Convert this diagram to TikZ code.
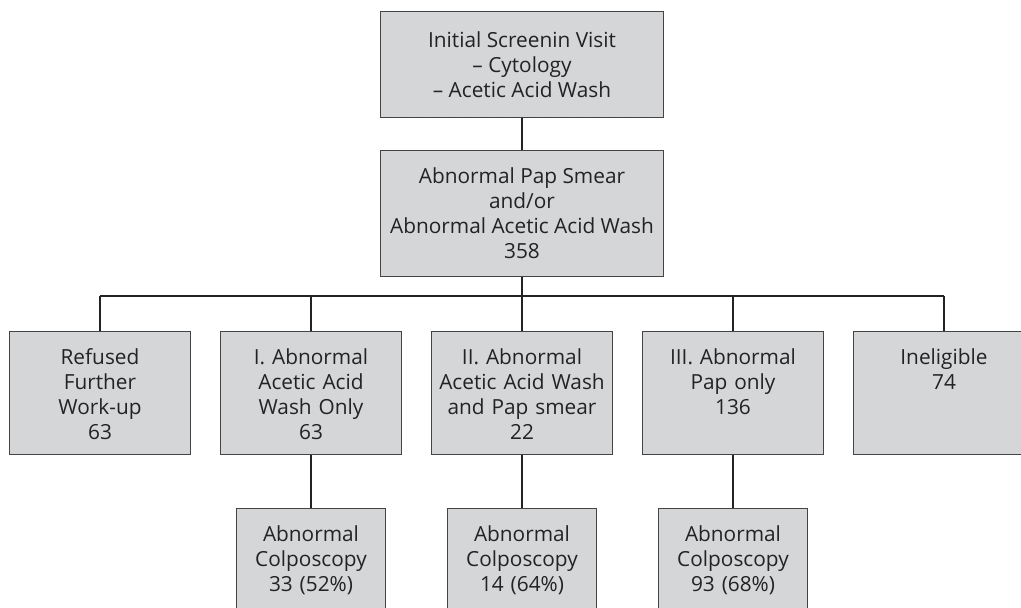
\documentclass[tikz,border=0pt]{standalone}
\usepackage{fontspec}
\setmainfont{Open Sans}
\usetikzlibrary{positioning}
\definecolor{boxgray}{HTML}{D5D6D8}
\definecolor{inkgray}{HTML}{232323}
\begin{document}
\begin{tikzpicture}[x=0.025cm,y=-0.025cm,
  main node/.style={draw=inkgray!85,line width=0.7pt,fill=boxgray,text=inkgray,align=center,inner sep=0pt,font=\fontsize{14.8}{17.8}\selectfont},
  top node/.style={main node,minimum width=7.05cm},
  row node/.style={main node,anchor=north,text width=4.5cm,text height=0.825cm,text depth=2.25cm},
  end node/.style={main node,anchor=north,text width=3.7cm,text height=0.825cm,text depth=2.25cm},
  link/.style={line width=1.1pt,inkgray}]
\clip (0,0) rectangle (1021,607);
\node[top node,minimum height=2.625cm] (s1) at (522,64.5) {Initial Screenin Visit\\-- Cytology\\-- Acetic Acid Wash};
\node[top node,minimum height=3.125cm] (s2) at (522,213.5) {Abnormal Pap Smear\\and/or\\Abnormal Acetic Acid Wash\\358};
\coordinate (hub) at (522,296);
\node[row node] (r1) at (100,331) {Refused\\Further\\Work-up\\63};
\node[row node] (r2) at (311,331) {I. Abnormal\\Acetic Acid\\Wash Only\\63};
\node[row node] (r3) at (522,331) {II. Abnormal\\Acetic Acid Wash\\and Pap smear\\22};
\node[row node] (r4) at (733,331) {III. Abnormal\\Pap only\\136};
\node[row node] (r5) at (944,331) {Ineligible\\74};
\node[end node] (c1) at (311,508) {Abnormal\\Colposcopy\\33 (52\%)};
\node[end node] (c2) at (522,508) {Abnormal\\Colposcopy\\14 (64\%)};
\node[end node] (c3) at (733,508) {Abnormal\\Colposcopy\\93 (68\%)};
\draw[link] (s1) -- (s2);
\draw[link] (s2) -- (hub);
\draw[link] (r1 |- hub) -- (r5 |- hub);
\foreach \n in {1,...,5}
  \draw[link] (r\n |- hub) -- (r\n);
\draw[link] (r2) -- (c1);
\draw[link] (r3) -- (c2);
\draw[link] (r4) -- (c3);
\end{tikzpicture}
\end{document}
